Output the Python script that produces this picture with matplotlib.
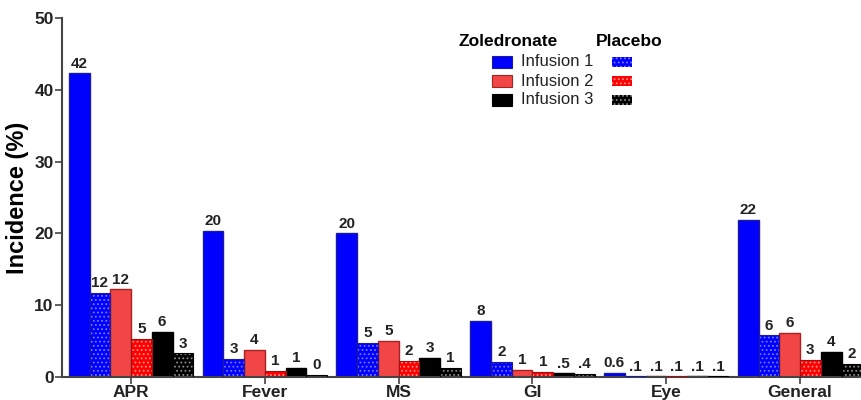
import matplotlib.pyplot as plt
import numpy as np
from matplotlib.patches import Rectangle

plt.rcParams["font.family"] = ["Liberation Sans", "DejaVu Sans"]
plt.rcParams["hatch.linewidth"] = 0.8

categories = ["APR", "Fever", "MS", "GI", "Eye", "General"]

# incidence (%) per group: zoledronate / placebo for infusions 1-3
zol1 = [42.3, 20.4, 20.0, 7.8, 0.6, 21.9]
pla1 = [11.7, 2.5, 4.7, 2.1, 0.1, 5.8]
zol2 = [12.2, 3.8, 5.0, 1.0, 0.1, 6.1]
pla2 = [5.3, 0.8, 2.2, 0.7, 0.1, 2.4]
zol3 = [6.3, 1.3, 2.7, 0.5, 0.1, 3.5]
pla3 = [3.3, 0.3, 1.3, 0.4, 0.1, 1.8]

lab_zol1 = ["42", "20", "20", "8", "0.6", "22"]
lab_pla1 = ["12", "3", "5", "2", ".1", "6"]
lab_zol2 = ["12", "4", "5", "1", ".1", "6"]
lab_pla2 = ["5", "1", "2", "1", ".1", "3"]
lab_zol3 = ["6", "1", "3", ".5", ".1", "4"]
lab_pla3 = ["3", "0", "1", ".4", ".1", "2"]

series = [
    (zol1, lab_zol1, "#0000ff", "#1c1c9a", None),
    (pla1, lab_pla1, "#0000ff", "#1c1c9a", "#7a7aff"),
    (zol2, lab_zol2, "#f24545", "#a82222", None),
    (pla2, lab_pla2, "#ff0000", "#a01010", "#ff9090"),
    (zol3, lab_zol3, "#000000", "#000000", None),
    (pla3, lab_pla3, "#000000", "#000000", "#8a8a8a"),
]

fig = plt.figure(figsize=(8.62, 4.0), dpi=100)
ax = fig.add_axes([62 / 862, 23 / 400, 800 / 862, 359 / 400])

x = np.arange(len(categories))
w = 0.155
for i, (vals, labs, color, edge, dots) in enumerate(series):
    pos = x + (i - 2.5) * w
    if dots is None:
        ax.bar(pos, vals, w, color=color, edgecolor=edge, linewidth=1.0, zorder=2)
    else:
        ax.bar(pos, vals, w, color=color, edgecolor=dots, hatch="....",
               linewidth=0, zorder=2)
        ax.bar(pos, vals, w, fill=False, edgecolor=edge, linewidth=0.8, zorder=3)
    for p, v, t in zip(pos, vals, labs):
        ax.annotate(t, (p, v), xytext=(0, 2), textcoords="offset points",
                    ha="center", va="bottom", fontsize=11, fontweight="bold",
                    color="#222222")

ax.set_xlim(-0.516, 5.463)
ax.set_ylim(0, 50)
ax.set_yticks([0, 10, 20, 30, 40, 50])
ax.set_xticks(x)
ax.set_xticklabels(categories)
for lbl in ax.get_xticklabels() + ax.get_yticklabels():
    lbl.set_fontweight("bold")
    lbl.set_fontsize(12.5)
    lbl.set_color("#222222")
ax.tick_params(axis="x", length=5, width=1.2, color="#444444", pad=1)
ax.tick_params(axis="y", length=5, width=1.2, color="#444444", pad=1)
ax.set_ylabel("Incidence (%)", fontsize=17, fontweight="bold", labelpad=4)
for s in ["top", "right"]:
    ax.spines[s].set_visible(False)
for s in ["left", "bottom"]:
    ax.spines[s].set_linewidth(1.5)
    ax.spines[s].set_color("#444444")

# legend built by hand: two headed columns
def fx(px):
    return px / 862

def fy(py):
    return 1 - py / 400

fig.text(fx(459), fy(42), "Zoledronate", fontsize=12.5, fontweight="bold",
         va="center", ha="left")
fig.text(fx(596), fy(42), "Placebo", fontsize=12.5, fontweight="bold",
         va="center", ha="left")
rows = [62, 81, 100]
names = ["Infusion 1", "Infusion 2", "Infusion 3"]
for r, name, (zs, ps) in zip(rows, names, [(series[0], series[1]),
                                           (series[2], series[3]),
                                           (series[4], series[5])]):
    fig.patches.append(Rectangle((fx(492), fy(r + 6)), fx(20), 12 / 400,
                                 facecolor=zs[2], edgecolor=zs[3], lw=0.8,
                                 transform=fig.transFigure))
    fig.text(fx(521), fy(r), name, fontsize=12, va="center", ha="left",
             color="#222222")
    fig.patches.append(Rectangle((fx(612), fy(r + 5)), fx(20), 10 / 400,
                                 facecolor=ps[2], edgecolor=ps[4], hatch="....",
                                 lw=0, transform=fig.transFigure))

fig.savefig("out.png", dpi=100)
